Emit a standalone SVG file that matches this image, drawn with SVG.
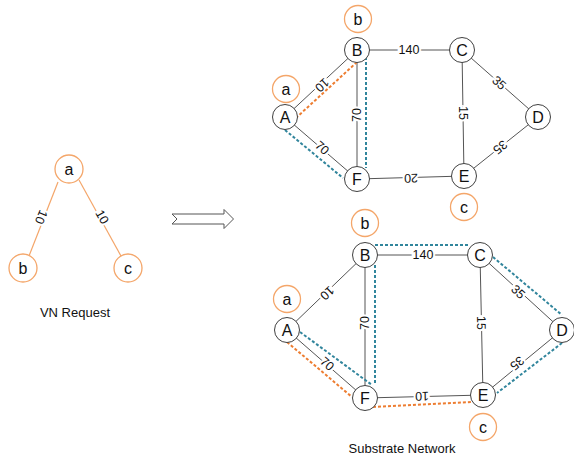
<svg xmlns="http://www.w3.org/2000/svg" width="574" height="458" viewBox="0 0 574 458">
<style>
text{font-family:"Liberation Sans",Arial,sans-serif;fill:#111;text-anchor:middle;dominant-baseline:central}
.n circle{fill:#fff;stroke:#404040;stroke-width:1}
.n text{font-size:16px}
.v circle{fill:#fff;stroke:#F4A66A;stroke-width:1.3}
.v text{font-size:16px}
.e line{stroke:#555;stroke-width:1}
.ve line{stroke:#F4A66A;stroke-width:1.2}
.lbl{font-size:12.5px;stroke:#fff;stroke-width:4;paint-order:stroke fill}
.e line.or{stroke:#ED7D31;stroke-width:2;stroke-dasharray:3 2;fill:none}
.e line.bl{stroke:#31859C;stroke-width:2;stroke-dasharray:3 2;fill:none}
.cap{font-size:13px}
</style>
<rect width="574" height="458" fill="#fff"/>

<!-- VN request -->
<g id="vn-edges" class="ve">
<line x1="58" y1="182" x2="29" y2="256"/>
<line x1="79" y1="180" x2="121" y2="256"/>
<text class="lbl" transform="translate(41,217) rotate(112)">10</text>
<text class="lbl" transform="translate(102,217) rotate(60)">10</text>
</g>
<g id="vn-a" class="v"><circle cx="69" cy="169" r="14"/><text x="69" y="169">a</text></g>
<g id="vn-b" class="v"><circle cx="23" cy="268" r="14"/><text x="23" y="268">b</text></g>
<g id="vn-c" class="v"><circle cx="128" cy="268" r="14"/><text x="128" y="268">c</text></g>
<text class="cap" x="75" y="312">VN Request</text>

<!-- arrow -->
<g id="arrow"><path d="M172,214 L224,214 L224,209.5 L233.5,219 L224,228.5 L224,224 L172,224 L177,219 Z" fill="#fff" stroke="#555" stroke-width="1"/></g>

<!-- top substrate connectors -->
<g id="top-edges" class="e">
<line x1="285" y1="117" x2="357" y2="50"/>
<line x1="357" y1="50" x2="357" y2="179"/>
<line x1="285" y1="117" x2="357" y2="179"/>
<line x1="357" y1="50" x2="462" y2="50"/>
<line x1="462" y1="50" x2="464" y2="176"/>
<line x1="462" y1="50" x2="538" y2="117"/>
<line x1="538" y1="117" x2="464" y2="176"/>
<line x1="357" y1="179" x2="464" y2="176"/>
<text class="lbl" transform="translate(322,85) rotate(137)">10</text>
<text class="lbl" transform="translate(357,115) rotate(-90)">70</text>
<text class="lbl" transform="translate(322,148) rotate(41)">70</text>
<text class="lbl" x="409" y="50">140</text>
<text class="lbl" transform="translate(463,113) rotate(90)">15</text>
<text class="lbl" transform="translate(499,83) rotate(41)">35</text>
<text class="lbl" transform="translate(500,147) rotate(141)">35</text>
<text class="lbl" transform="translate(411,178) rotate(178.5)">20</text>
<line class="or" x1="357" y1="62" x2="297" y2="117"/>
<line class="bl" x1="285" y1="130" x2="343" y2="178"/>
<line class="bl" x1="366" y1="57" x2="366" y2="168"/>
</g>
<g id="tA" class="n"><circle cx="285" cy="117" r="12.5"/><text x="285" y="117">A</text></g>
<g id="tB" class="n"><circle cx="357" cy="50" r="12.5"/><text x="357" y="50">B</text></g>
<g id="tC" class="n"><circle cx="462" cy="50" r="12.5"/><text x="462" y="50">C</text></g>
<g id="tD" class="n"><circle cx="538" cy="117" r="12.5"/><text x="538" y="117">D</text></g>
<g id="tE" class="n"><circle cx="464" cy="176" r="12.5"/><text x="464" y="176">E</text></g>
<g id="tF" class="n"><circle cx="357" cy="179" r="12.5"/><text x="357" y="179">F</text></g>
<g id="ta" class="v"><circle cx="286" cy="89" r="13.5"/><text x="286" y="89">a</text></g>
<g id="tb" class="v"><circle cx="358" cy="19" r="13.5"/><text x="358" y="19">b</text></g>
<g id="tc" class="v"><circle cx="464" cy="207" r="13.5"/><text x="464" y="207">c</text></g>

<!-- bottom substrate connectors -->
<g id="bottom-edges" class="e">
<line x1="287" y1="330" x2="365" y2="255"/>
<line x1="365" y1="255" x2="365" y2="398"/>
<line x1="287" y1="330" x2="365" y2="398"/>
<line x1="365" y1="255" x2="480" y2="255"/>
<line x1="480" y1="255" x2="483" y2="395"/>
<line x1="480" y1="255" x2="562" y2="330"/>
<line x1="562" y1="330" x2="483" y2="395"/>
<line x1="365" y1="398" x2="483" y2="395"/>
<text class="lbl" transform="translate(327,293) rotate(136)">10</text>
<text class="lbl" transform="translate(365,323) rotate(-90)">70</text>
<text class="lbl" transform="translate(327,364) rotate(41)">70</text>
<text class="lbl" x="423" y="255">140</text>
<text class="lbl" transform="translate(481,323) rotate(89)">15</text>
<text class="lbl" transform="translate(518,292) rotate(42)">35</text>
<text class="lbl" transform="translate(517,363) rotate(140.5)">35</text>
<text class="lbl" transform="translate(422,396) rotate(178.5)">10</text>
<line class="bl" x1="375" y1="245" x2="468" y2="245"/>
<line class="bl" x1="493" y1="257" x2="562" y2="315"/>
<line class="bl" x1="562" y1="343" x2="497" y2="393"/>
<line class="bl" x1="375" y1="265" x2="375" y2="385"/>
<line class="bl" x1="300" y1="332" x2="372" y2="385"/>
<line class="or" x1="287" y1="342" x2="352" y2="397"/>
<line class="or" x1="373" y1="407" x2="472" y2="402"/>
</g>
<g id="bA" class="n"><circle cx="287" cy="330" r="12.5"/><text x="287" y="330">A</text></g>
<g id="bB" class="n"><circle cx="365" cy="255" r="12.5"/><text x="365" y="255">B</text></g>
<g id="bC" class="n"><circle cx="480" cy="255" r="12.5"/><text x="480" y="255">C</text></g>
<g id="bD" class="n"><circle cx="562" cy="330" r="12.5"/><text x="562" y="330">D</text></g>
<g id="bE" class="n"><circle cx="483" cy="395" r="12.5"/><text x="483" y="395">E</text></g>
<g id="bF" class="n"><circle cx="365" cy="398" r="12.5"/><text x="365" y="398">F</text></g>
<g id="ba" class="v"><circle cx="287" cy="299" r="13.5"/><text x="287" y="299">a</text></g>
<g id="bb" class="v"><circle cx="365" cy="223" r="13.5"/><text x="365" y="223">b</text></g>
<g id="bc" class="v"><circle cx="483" cy="427" r="13.5"/><text x="483" y="427">c</text></g>
<text class="cap" x="402" y="448">Substrate Network</text>
</svg>
